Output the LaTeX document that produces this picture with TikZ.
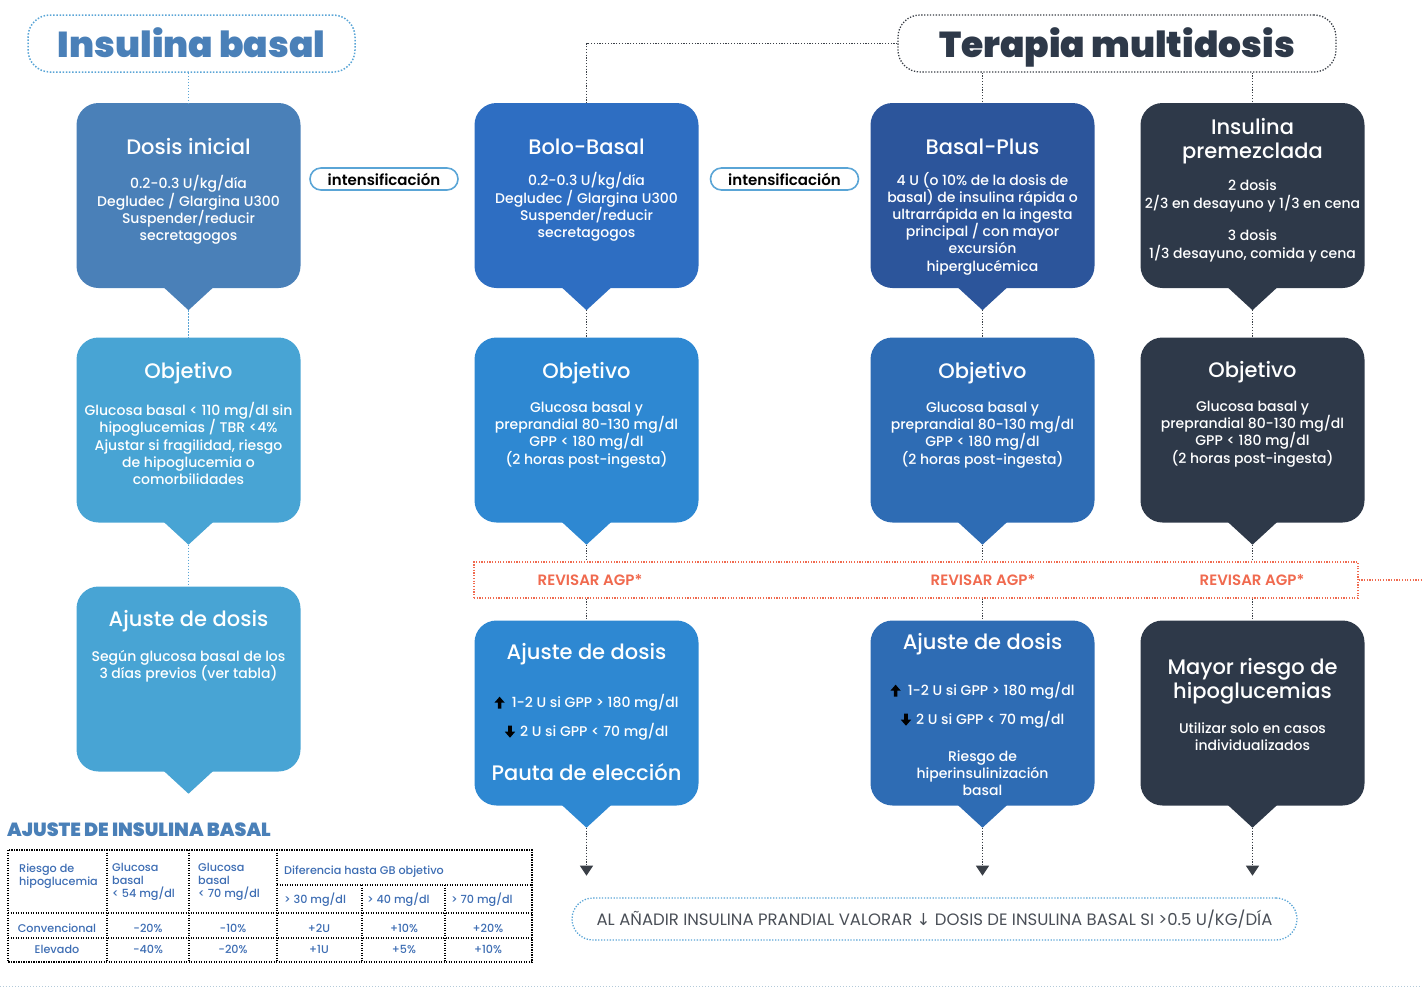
\documentclass[tikz,border=0pt]{standalone}
\usepackage{fontspec}
\setmainfont{Poppins}
\newfontfamily\semi{Poppins SemiBold}
\newfontfamily\medium{Poppins Medium}
\newfontfamily\heavy{Poppins Black}
\newfontfamily\sym{DejaVu Sans}
\usepackage{tikz}
\usetikzlibrary{arrows.meta,positioning}
\usepackage{xcolor}

\definecolor{basA}{HTML}{4A80B8}
\definecolor{basB}{HTML}{48A4D4}
\definecolor{boloA}{HTML}{2E6EC2}
\definecolor{boloB}{HTML}{2E88D2}
\definecolor{plusA}{HTML}{2C559B}
\definecolor{plusB}{HTML}{2E6CB4}
\definecolor{mezcla}{HTML}{2E3949}
\definecolor{dotblue}{HTML}{5AA5D6}
\definecolor{dotgray}{HTML}{3A3F47}
\definecolor{agp}{HTML}{F06A4F}
\definecolor{tabblue}{HTML}{3D6DB3}
\definecolor{notegray}{HTML}{4A4F57}

% heavy up / down arrows used inside the dose boxes
\newcommand{\upar}{\tikz[baseline=0pt, x=1pt, y=1pt]\fill[black] (-1.8,-1) -- (-1.8,5) -- (-5.2,5) -- (0,11) -- (5.2,5) -- (1.8,5) -- (1.8,-1) -- cycle;\hspace{7pt}}
\newcommand{\dnar}{\tikz[baseline=0pt, x=1pt, y=1pt]\fill[black] (-1.8,11) -- (-1.8,5) -- (-5.2,5) -- (0,-1) -- (5.2,5) -- (1.8,5) -- (1.8,11) -- cycle;\hspace{5pt}}

\tikzset{
  bubble/.style={rounded corners=22pt, minimum width=224pt, minimum height=185pt, inner sep=0pt},
  ttl/.style={text=white, align=center, inner sep=0pt, font=\medium\fontsize{21}{24}\selectfont},
  body/.style={text=white, align=center, inner sep=0pt, font=\medium\fontsize{14}{17.2}\selectfont},
  bluedot/.style={dotblue, line width=1.4pt, dash pattern=on 1.4pt off 1.6pt},
  graydot/.style={dotgray, line width=1.2pt, dash pattern=on 1.2pt off 1.6pt},
  pill/.style={draw=dotblue, line width=1.6pt, rounded corners=11pt, minimum width=148pt, minimum height=22pt, inner sep=0pt, font=\semi\fontsize{15}{16}\selectfont},
  tab/.style={black, line width=1.1pt, dash pattern=on 1.1pt off 1.4pt},
  tabtxt/.style={text=tabblue, inner sep=0pt, align=left, font=\medium\fontsize{11.2}{13}\selectfont},
  agptxt/.style={text=agp, inner sep=0pt, font=\semi\fontsize{15}{15}\selectfont},
}

\begin{document}
\begin{tikzpicture}[x=1pt, y=-1pt]
\useasboundingbox (0,0) rectangle (1422,988);

% headers
\node[draw=dotblue, line width=1.5pt, dash pattern=on 1.5pt off 1.7pt, rounded corners=22pt,
  minimum width=327pt, minimum height=57pt, text height=30pt, text depth=3pt, text=basA,
  font=\heavy\fontsize{36}{40}\selectfont] (hb) at (191.5,43.5) {Insulina basal};
\node[draw=dotgray, line width=1.3pt, dash pattern=on 1.3pt off 1.6pt, rounded corners=22pt,
  minimum width=438pt, minimum height=57pt, text height=30pt, text depth=3pt, text=mezcla,
  font=\heavy\fontsize{36}{40}\selectfont] (hm) at (1117,43.5) {Terapia multidosis};

% bubbles with their tails
\foreach \nm/\x/\y/\c in {c1r1/188.5/195.5/basA, c1r2/188.5/430/basB, c1r3/188.5/679/basB,
  c2r1/586.5/195.5/boloA, c2r2/586.5/430/boloB, c2r3/586.5/713/boloB,
  c3r1/982.5/195.5/plusA, c3r2/982.5/430/plusB, c3r3/982.5/713/plusB,
  c4r1/1252.5/195.5/mezcla, c4r2/1252.5/430/mezcla, c4r3/1252.5/713/mezcla}{
  \node[bubble, fill=\c] (\nm) at (\x,\y) {};
  \fill[\c] ([xshift=-25pt,yshift=1pt]\nm.south) -- ([yshift=-22pt]\nm.south) -- ([xshift=25pt,yshift=1pt]\nm.south) -- cycle;
  \coordinate (\nm t) at ([yshift=-22pt]\nm.south);
}

% column 1: insulina basal
\node[ttl] (t11) at (188.5,147) {Dosis inicial};
\node[body] (b11) at (188.5,210) {0.2-0.3 U/kg/día\\Degludec / Glargina U300\\Suspender/reducir\\secretagogos};
\node[ttl] (t12) at (188.5,373) {Objetivo};
\node[body] (b12) at (188.5,443.5) {Glucosa basal < 110 mg/dl sin\\hipoglucemias / TBR <4\%\\Ajustar si fragilidad, riesgo\\de hipoglucemia o\\comorbilidades};
\node[ttl] (t13) at (188.5,621) {Ajuste de dosis};
\node[body] (b13) at (188.5,666.5) {Según glucosa basal de los\\3 días previos (ver tabla)};

% column 2: bolo-basal
\node[ttl] (t21) at (586.5,147) {Bolo-Basal};
\node[body] (b21) at (586.5,207) {0.2-0.3 U/kg/día\\Degludec / Glargina U300\\Suspender/reducir\\secretagogos};
\node[ttl] (t22) at (586.5,373) {Objetivo};
\node[body] (b22) at (586.5,435) {Glucosa basal y\\preprandial 80-130 mg/dl\\GPP < 180 mg/dl\\(2 horas post-ingesta)};
\node[ttl] (t23) at (586.5,654) {Ajuste de dosis};
\node[body] (u23) at (586.5,703) {\upar 1-2 U si GPP > 180 mg/dl};
\node[body] (d23) at (586.5,732) {\dnar 2 U si GPP < 70 mg/dl};
\node[ttl] (p23) at (586.5,772) {Pauta de elección};

% column 3: basal-plus
\node[ttl] (t31) at (982.5,147) {Basal-Plus};
\node[body] (b31) at (982.5,223.5) {4 U (o 10\% de la dosis de\\basal) de insulina rápida o\\ultrarrápida en la ingesta\\principal / con mayor\\excursión\\hiperglucémica};
\node[ttl] (t32) at (982.5,373) {Objetivo};
\node[body] (b32) at (982.5,435) {Glucosa basal y\\preprandial 80-130 mg/dl\\GPP < 180 mg/dl\\(2 horas post-ingesta)};
\node[ttl] (t33) at (982.5,644) {Ajuste de dosis};
\node[body] (u33) at (982.5,691) {\upar 1-2 U si GPP > 180 mg/dl};
\node[body] (d33) at (982.5,720) {\dnar 2 U si GPP < 70 mg/dl};
\node[body] (r33) at (982.5,773) {Riesgo de\\hiperinsulinización\\basal};

% column 4: premezclada
\node[ttl] (t41) at (1252.5,141) {Insulina\\premezclada};
\node[body] (b41) at (1252.5,196) {2 dosis\\2/3 en desayuno y 1/3 en cena};
\node[body] (e41) at (1252.5,246) {3 dosis\\1/3 desayuno, comida y cena};
\node[ttl] (t42) at (1252.5,372) {Objetivo};
\node[body] (b42) at (1252.5,434) {Glucosa basal y\\preprandial 80-130 mg/dl\\GPP < 180 mg/dl\\(2 horas post-ingesta)};
\node[ttl] (t43) at (1252.5,681) {Mayor riesgo de\\hipoglucemias};
\node[body] (b43) at (1252.5,736.5) {Utilizar solo en casos\\individualizados};

% intensificacion
\node[pill] (i1) at (384,179) {intensificación};
\node[pill] (i2) at (784.5,179) {intensificación};

% revisar AGP
\node[draw=agp, line width=1.2pt, dash pattern=on 1.2pt off 1.5pt, minimum width=884pt, minimum height=36pt, inner sep=0pt] (rev) at (916,580) {};
\node[agptxt] (a1) at (590,580) {REVISAR AGP*};
\node[agptxt] (a2) at (983,580) {REVISAR AGP*};
\node[agptxt] (a3) at (1252,580) {REVISAR AGP*};
\coordinate (revend) at (1422,580);

% connectors
\draw[bluedot] (c1r1.north |- hb.south) -- (c1r1.north);
\draw[bluedot] (c1r1t) -- (c1r2.north);
\draw[bluedot] (c1r2t) -- (c1r3.north);
\draw[graydot] (hm.west) -| (c2r1.north);
\draw[graydot] (c3r1.north |- hm.south) -- (c3r1.north);
\draw[graydot] (c4r1.north |- hm.south) -- (c4r1.north);
\foreach \k in {2,3,4}{
  \draw[graydot] (c\k r1t) -- (c\k r2.north);
  \draw[graydot] (c\k r2t) -- (c\k r2t |- rev.north);
  \draw[graydot] (c\k r3.north |- rev.south) -- (c\k r3.north);
  \coordinate (end\k) at ([yshift=-48pt]c\k r3t);
  \draw[graydot, -{Triangle[width=13pt,length=10pt]}] (c\k r3t) -- (end\k);
}
\draw[agp, line width=1.2pt, dash pattern=on 1.2pt off 1.5pt] (rev.east) -- (revend);

% note
\node[draw=dotblue, line width=1.3pt, dash pattern=on 1.3pt off 1.6pt, rounded corners=21pt,
  minimum width=725pt, minimum height=42pt, text=notegray, font=\fontsize{16.5}{18}\selectfont]
  (note) at (934.5,919) {AL AÑADIR INSULINA PRANDIAL VALORAR {\sym ↓} DOSIS DE INSULINA BASAL SI >0.5 U/KG/DÍA};

% table
\node[anchor=west, inner sep=0pt, text=basA, font=\heavy\fontsize{19}{20}\selectfont] (tt) at (7,830) {AJUSTE DE INSULINA BASAL};
\draw[tab] (8,850) rectangle (532,962);
\draw[tab] (8,913) -- (532,913);
\draw[tab] (8,938) -- (532,938);
\draw[tab] (277,885) -- (532,885);
\foreach \xx in {107,189,277} \draw[tab] (\xx,850) -- (\xx,962);
\foreach \xx in {362,445} \draw[tab] (\xx,885) -- (\xx,962);
\node[tabtxt, anchor=west] (h1) at (19,876) {Riesgo de\\hipoglucemia};
\node[tabtxt, anchor=west] (h2) at (112,882) {Glucosa\\basal\\< 54 mg/dl};
\node[tabtxt, anchor=west] (h3) at (198,882) {Glucosa\\basal\\< 70 mg/dl};
\node[tabtxt, anchor=west] (h4) at (284,872) {Diferencia hasta GB objetivo};
\node[tabtxt, anchor=west] (h5) at (284,900) {> 30 mg/dl};
\node[tabtxt, anchor=west] (h6) at (367,900) {> 40 mg/dl};
\node[tabtxt, anchor=west] (h7) at (451,900) {> 70 mg/dl};
\foreach \v [count=\i] in {Convencional,-20\%,-10\%,+2U,+10\%,+20\%}{
  \pgfmathsetmacro{\cx}{{57,148,233,319,404,488}[\i-1]}
  \node[tabtxt] (cv\i) at (\cx,928) {\v};
}
\foreach \v [count=\i] in {Elevado,-40\%,-20\%,+1U,+5\%,+10\%}{
  \pgfmathsetmacro{\cx}{{57,148,233,319,404,488}[\i-1]}
  \node[tabtxt] (el\i) at (\cx,949) {\v};
}

% bottom rule
\draw[dotblue!60!gray!50, line width=1pt, dash pattern=on 1pt off 2pt] (0,986) -- (1422,986);
\end{tikzpicture}
\end{document}
